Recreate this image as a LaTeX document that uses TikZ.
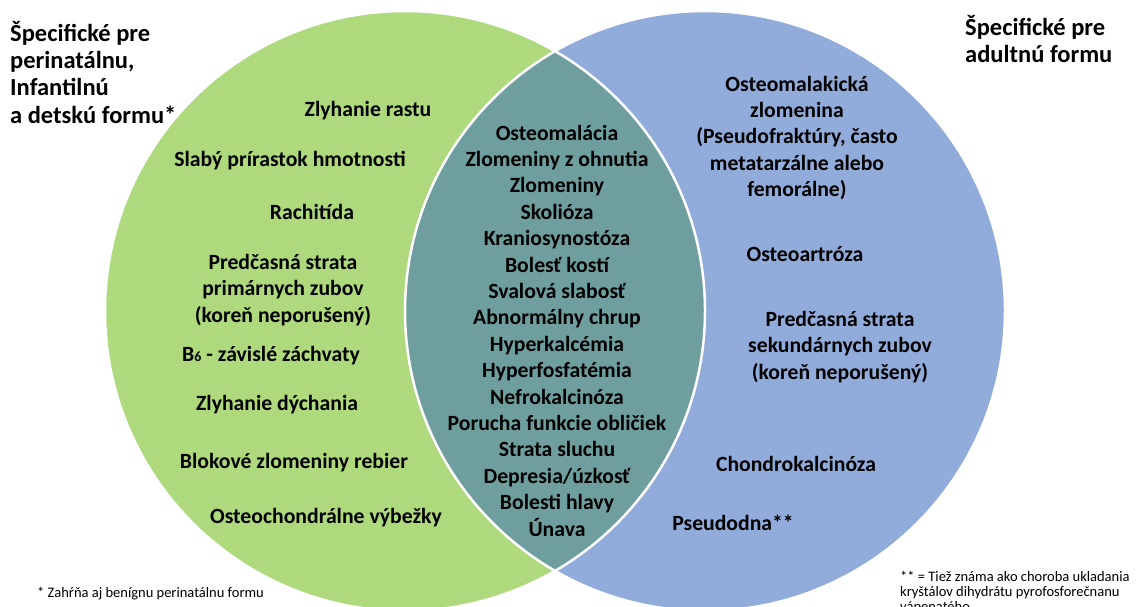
\documentclass[tikz,border=0pt]{standalone}
\usepackage{fontspec}
\setmainfont{Carlito}
\definecolor{vgreen}{HTML}{AED97C}
\definecolor{vblue}{HTML}{91ACDA}
\definecolor{vteal}{HTML}{6F9E9E}
\tikzset{
  lbl/.style={font=\bfseries\fontsize{21.7}{26.4}\selectfont, align=center, inner sep=0pt, text=black},
  ttl/.style={font=\bfseries\fontsize{24.5}{27.3}\selectfont, align=left, inner sep=0pt, anchor=base west, text=black},
  note/.style={font=\fontsize{14.5}{15.2}\selectfont, align=left, inner sep=0pt, anchor=base west, text=black},
}
\begin{document}
\begin{tikzpicture}[x=1pt,y=-1pt]
\useasboundingbox (0,0) rectangle (1137,606);
\clip (0,0) rectangle (1137,606);
% circles
\fill[vgreen] (405,311) circle (300);
\fill[vblue] (705,311) circle (300);
\begin{scope}
  \clip (405,311) circle (300);
  \fill[vteal] (705,311) circle (300);
\end{scope}
\draw[white, line width=2.5] (405,311) circle (300);
\draw[white, line width=2.5] (705,311) circle (300);
% titles (anchor = baseline of last line)
\node[ttl] (tl) at (10,123) {Špecifické pre\\perinatálnu,\\Infantilnú\\a detskú formu*};
\node[ttl] (tr) at (965,62.5) {Špecifické pre\\adultnú formu};
% left
\node[lbl] (l1) at (368,111) {Zlyhanie rastu};
\node[lbl] (l2) at (290,161) {Slabý prírastok hmotnosti};
\node[lbl] (l3) at (312,212) {Rachitída};
\node[lbl] (l4) at (283,290) {Predčasná strata\\primárnych zubov\\(koreň neporušený)};
\node[lbl] (l5) at (271,356) {B{\fontsize{14}{14}\selectfont 6} - závislé záchvaty};
\node[lbl] (l6) at (277,405) {Zlyhanie dýchania};
\node[lbl] (l7) at (294,463) {Blokové zlomeniny rebier};
\node[lbl] (l8) at (326,518) {Osteochondrálne výbežky};
% center
\node[lbl] (c) at (557,330.5) {Osteomalácia\\Zlomeniny z ohnutia\\Zlomeniny\\Skolióza\\Kraniosynostóza\\Bolesť kostí\\Svalová slabosť\\Abnormálny chrup\\Hyperkalcémia\\Hyperfosfatémia\\Nefrokalcinóza\\Porucha funkcie obličiek\\Strata sluchu\\Depresia/úzkosť\\Bolesti hlavy\\Únava};
% right
\node[lbl] (r1) at (797,138) {Osteomalakická\\zlomenina\\(Pseudofraktúry, často\\metatarzálne alebo\\femorálne)};
\node[lbl] (r2) at (805,254) {Osteoartróza};
\node[lbl] (r3) at (840,347) {Predčasná strata\\sekundárnych zubov\\(koreň neporušený)};
\node[lbl] (r4) at (796,464) {Chondrokalcinóza};
\node[lbl] (r5) at (733,523) {Pseudodna**};
% notes
\node[note] (n1) at (37,597) {* Zahŕňa aj benígnu perinatálnu formu};
\node[note] (n2) at (900,611.5) {** = Tiež známa ako choroba ukladania\\kryštálov dihydrátu pyrofosforečnanu\\vápenatého};
\end{tikzpicture}
\end{document}
